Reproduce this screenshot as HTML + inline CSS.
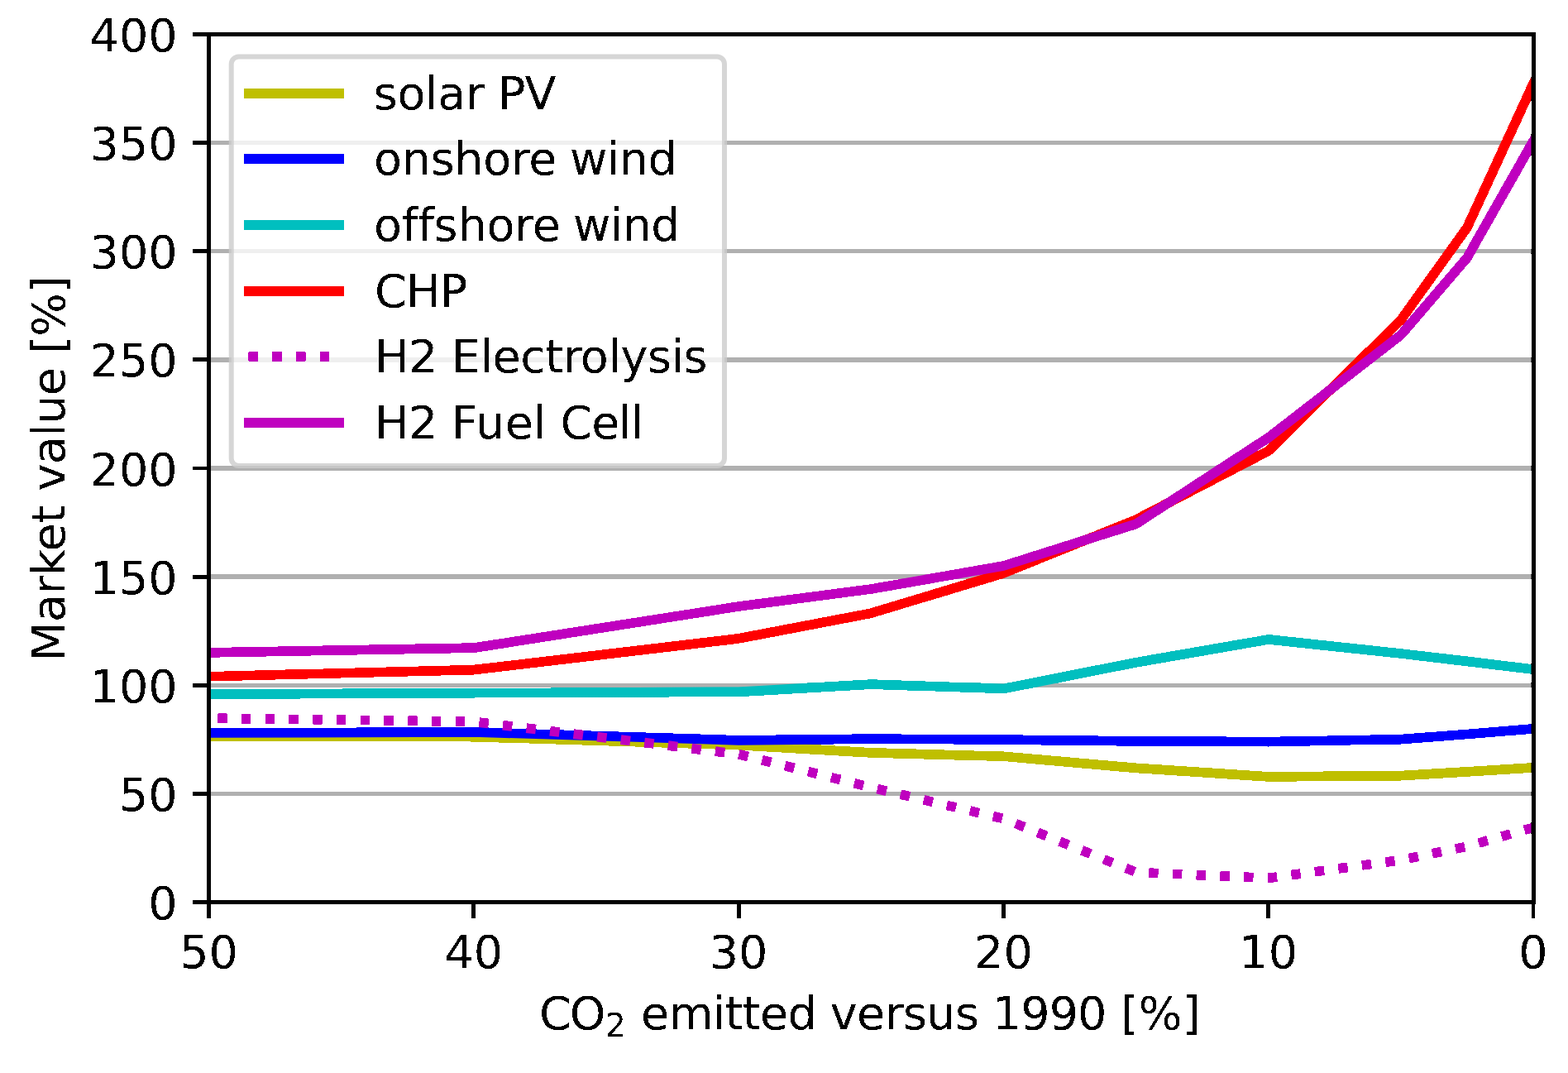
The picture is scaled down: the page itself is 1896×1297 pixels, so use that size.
<!DOCTYPE html>
<html><head><meta charset="utf-8"><title>Market value vs CO2 emitted</title>
<style>
html,body{margin:0;padding:0;background:#fff;}
body{width:1896px;height:1297px;overflow:hidden;}
svg{display:block;}
text{font-family:"DejaVu Sans","Liberation Sans",sans-serif;font-size:55.56px;fill:#000;}
</style></head><body>
<svg width="1896" height="1297" viewBox="0 0 1896 1297">
<rect x="0" y="0" width="1896" height="1297" fill="#fff"/>
<defs><filter id="crisp" filterUnits="userSpaceOnUse" x="0" y="0" width="1896" height="1297" color-interpolation-filters="sRGB"><feComponentTransfer><feFuncA type="discrete" tableValues="0 1"/></feComponentTransfer></filter><clipPath id="ax"><rect x="252.5" y="41.5" width="1601.50" height="1049.0"/></clipPath></defs>
<g filter="url(#crisp)">
<g stroke="#b0b0b0" stroke-width="5" clip-path="url(#ax)"><line x1="252.5" y1="1090.50" x2="1854.0" y2="1090.50"/><line x1="252.5" y1="959.38" x2="1854.0" y2="959.38"/><line x1="252.5" y1="828.25" x2="1854.0" y2="828.25"/><line x1="252.5" y1="697.12" x2="1854.0" y2="697.12"/><line x1="252.5" y1="566.00" x2="1854.0" y2="566.00"/><line x1="252.5" y1="434.88" x2="1854.0" y2="434.88"/><line x1="252.5" y1="303.75" x2="1854.0" y2="303.75"/><line x1="252.5" y1="172.62" x2="1854.0" y2="172.62"/><line x1="252.5" y1="41.50" x2="1854.0" y2="41.50"/></g>
<g clip-path="url(#ax)" fill="none" stroke-linejoin="round">
<polyline points="252.50,890.40 572.80,890.67 893.10,900.63 1053.25,909.81 1213.40,914.27 1373.55,928.43 1533.70,938.92 1693.85,937.61 1773.92,932.89 1854.00,927.90" stroke="#bfbf00" stroke-width="11.7" stroke-linecap="square"/>
<polyline points="252.50,885.94 572.80,884.90 893.10,894.86 1053.25,893.03 1213.40,894.07 1373.55,895.91 1533.70,896.70 1693.85,893.55 1773.92,887.52 1854.00,880.96" stroke="#0000ff" stroke-width="11.7" stroke-linecap="square"/>
<polyline points="252.50,839.00 572.80,837.69 893.10,836.38 1053.25,827.20 1213.40,832.45 1373.55,800.71 1533.70,772.92 1693.85,789.96 1773.92,799.40 1854.00,809.11" stroke="#00bfbf" stroke-width="11.7" stroke-linecap="square"/>
<polyline points="252.50,817.76 572.80,809.63 893.10,771.87 1053.25,741.18 1213.40,692.93 1373.55,628.15 1533.70,545.02 1693.85,386.88 1773.92,275.16 1854.00,101.03" stroke="#ff0000" stroke-width="11.7" stroke-linecap="square"/>
<polyline points="252.50,868.11 572.80,872.31 893.10,911.65 1053.25,951.77 1213.40,989.53 1373.55,1054.31 1533.70,1061.39 1693.85,1039.62 1773.92,1023.10 1854.00,1000.29" stroke="#bf00bf" stroke-width="11.7" stroke-linecap="butt" stroke-dasharray="11.5 17.26" stroke-dashoffset="-10.6"/>
<polyline points="252.50,788.91 572.80,783.14 893.10,733.05 1053.25,712.07 1213.40,684.01 1373.55,633.40 1533.70,529.02 1693.85,404.98 1773.92,311.62 1854.00,170.53" stroke="#bf00bf" stroke-width="11.7" stroke-linecap="square"/>
</g>
<rect x="252.5" y="41.5" width="1601.50" height="1049.0" fill="none" stroke="#000" stroke-width="5" stroke-linecap="square"/>
<g stroke="#000" stroke-width="5"><line x1="233.06" y1="1090.50" x2="252.5" y2="1090.50"/><line x1="233.06" y1="959.38" x2="252.5" y2="959.38"/><line x1="233.06" y1="828.25" x2="252.5" y2="828.25"/><line x1="233.06" y1="697.12" x2="252.5" y2="697.12"/><line x1="233.06" y1="566.00" x2="252.5" y2="566.00"/><line x1="233.06" y1="434.88" x2="252.5" y2="434.88"/><line x1="233.06" y1="303.75" x2="252.5" y2="303.75"/><line x1="233.06" y1="172.62" x2="252.5" y2="172.62"/><line x1="233.06" y1="41.50" x2="252.5" y2="41.50"/><line x1="252.50" y1="1090.5" x2="252.50" y2="1109.94"/><line x1="572.80" y1="1090.5" x2="572.80" y2="1109.94"/><line x1="893.10" y1="1090.5" x2="893.10" y2="1109.94"/><line x1="1213.40" y1="1090.5" x2="1213.40" y2="1109.94"/><line x1="1533.70" y1="1090.5" x2="1533.70" y2="1109.94"/><line x1="1854.00" y1="1090.5" x2="1854.00" y2="1109.94"/></g>
<text x="214.60" y="1111.00" text-anchor="end">0</text><text x="214.60" y="979.88" text-anchor="end">50</text><text x="214.60" y="848.75" text-anchor="end">100</text><text x="214.60" y="717.62" text-anchor="end">150</text><text x="214.60" y="586.50" text-anchor="end">200</text><text x="214.60" y="455.38" text-anchor="end">250</text><text x="214.60" y="324.25" text-anchor="end">300</text><text x="214.60" y="193.12" text-anchor="end">350</text><text x="214.60" y="62.00" text-anchor="end">400</text><text x="252.50" y="1170.3" text-anchor="middle">50</text><text x="572.80" y="1170.3" text-anchor="middle">40</text><text x="893.10" y="1170.3" text-anchor="middle">30</text><text x="1213.40" y="1170.3" text-anchor="middle">20</text><text x="1533.70" y="1170.3" text-anchor="middle">10</text><text x="1854.00" y="1170.3" text-anchor="middle">0</text>
<text x="652.00" y="1244.3" style="letter-spacing:-2.000px">CO</text><text x="731.90" y="1253.0" style="font-size:38.9px">2</text><text x="775.10" y="1244.3" style="letter-spacing:-0.667px">emitted</text><text x="1003.70" y="1244.3" style="letter-spacing:-0.540px">versus</text><text x="1199.80" y="1244.3" style="letter-spacing:-0.900px">1990</text><text x="1355.00" y="1244.3" style="letter-spacing:0.100px">[%]</text>
<text transform="translate(78.3,799.30) rotate(-90)" x="0" y="0" style="letter-spacing:-0.520px">Market</text><text transform="translate(78.3,593.50) rotate(-90)" x="0" y="0" style="letter-spacing:-0.550px">value</text><text transform="translate(78.3,427.60) rotate(-90)" x="0" y="0" style="letter-spacing:-0.850px">[%]</text>
</g>
<rect x="279.7" y="68.4" width="596.30" height="494.50" rx="9" ry="9" fill="#fff" fill-opacity="0.8" stroke="#ccc" stroke-opacity="0.8" stroke-width="6"/>
<g filter="url(#crisp)">
<line x1="300.5" y1="113.20" x2="410.5" y2="113.20" stroke="#bfbf00" stroke-width="11.7" stroke-linecap="square"/><text x="451.80" y="132.30" style="letter-spacing:-0.300px">solar</text><text x="601.90" y="132.30" style="letter-spacing:-1.000px">PV</text>
<line x1="300.5" y1="192.00" x2="410.5" y2="192.00" stroke="#0000ff" stroke-width="11.7" stroke-linecap="square"/><text x="452.10" y="211.10" style="letter-spacing:-0.317px">onshore</text><text x="688.90" y="211.10" style="letter-spacing:-0.500px">wind</text>
<line x1="300.5" y1="272.00" x2="410.5" y2="272.00" stroke="#00bfbf" stroke-width="11.7" stroke-linecap="square"/><text x="452.00" y="291.10" style="letter-spacing:-0.157px">offshore</text><text x="693.10" y="291.10" style="letter-spacing:-0.600px">wind</text>
<line x1="300.5" y1="351.90" x2="410.5" y2="351.90" stroke="#ff0000" stroke-width="11.7" stroke-linecap="square"/><text x="452.90" y="371.00" style="letter-spacing:-0.900px">CHP</text>
<line x1="300.5" y1="431.00" x2="410.5" y2="431.00" stroke="#bf00bf" stroke-width="11.7" stroke-dasharray="11.5 17.26"/><text x="452.75" y="450.10" style="letter-spacing:-0.550px">H2</text><text x="545.80" y="450.10" style="letter-spacing:-0.427px">Electrolysis</text>
<line x1="300.5" y1="511.00" x2="410.5" y2="511.00" stroke="#bf00bf" stroke-width="11.7" stroke-linecap="square"/><text x="452.75" y="530.10" style="letter-spacing:-0.550px">H2</text><text x="545.80" y="530.10" style="letter-spacing:0.367px">Fuel</text><text x="677.40" y="530.10" style="letter-spacing:-1.000px">Cell</text>
</g>
</svg>
</body></html>
